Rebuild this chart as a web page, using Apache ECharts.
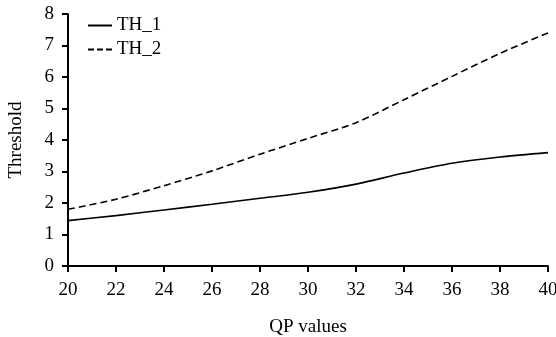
<!DOCTYPE html>
<html>
<head>
<meta charset="utf-8">
<script src="https://cdn.jsdelivr.net/npm/echarts@6/dist/echarts.min.js"></script>
<style>
  html, body { margin: 0; padding: 0; background: #fff; }
  #chart { width: 556px; height: 337px; }
</style>
</head>
<body>
<div id="chart"></div>
<script>
// QP values on the x axis
var qpValues = [20, 22, 24, 26, 28, 30, 32, 34, 36, 38, 40];
// threshold curves
var th1 = [1.44, 1.6, 1.78, 1.96, 2.15, 2.34, 2.6, 2.95, 3.26, 3.46, 3.6];
var th2 = [1.8, 2.12, 2.55, 3.02, 3.55, 4.05, 4.55, 5.28, 6.02, 6.75, 7.4];

var font = "'Liberation Serif', 'Times New Roman', serif";

function pairs(xs, ys) {
  return xs.map(function (x, i) { return [x, ys[i]]; });
}

var chart = echarts.init(document.getElementById('chart'));
chart.setOption({
  animation: false,
  backgroundColor: '#fff',
  grid: {left: 68, right: 8, top: 14, bottom: 71, containLabel: false, outerBoundsMode: 'none'},
  legend: {
    orient: 'vertical',
    left: 83,
    top: 11,
    itemWidth: 24,
    itemHeight: 2,
    itemGap: 5,
    textStyle: {fontFamily: font, fontSize: 19, color: '#000'},
    data: [
      {name: 'TH_1', icon: 'path://M0,0H24V2H0Z'},
      {name: 'TH_2', icon: 'path://M0,0H6V2H0Z M9,0H15V2H9Z M18,0H24V2H18Z'}
    ]
  },
  xAxis: {
    type: 'value',
    min: 20, max: 40, interval: 2,
    name: 'QP values',
    nameLocation: 'middle',
    nameGap: 52,
    nameTextStyle: {fontFamily: font, fontSize: 19, color: '#000'},
    axisLine: {lineStyle: {color: '#000', width: 2}},
    axisTick: {length: 6, lineStyle: {color: '#000', width: 2}},
    axisLabel: {fontFamily: font, fontSize: 19, color: '#000', margin: 15},
    splitLine: {show: false}
  },
  yAxis: {
    type: 'value',
    min: 0, max: 8, interval: 1,
    name: 'Threshold',
    nameLocation: 'middle',
    nameGap: 42,
    nameTextStyle: {fontFamily: font, fontSize: 19, color: '#000'},
    axisLine: {show: true, lineStyle: {color: '#000', width: 2}},
    axisTick: {show: true, length: 6, lineStyle: {color: '#000', width: 2}},
    axisLabel: {fontFamily: font, fontSize: 19, color: '#000', margin: 14},
    splitLine: {show: false}
  },
  series: [
    {
      name: 'TH_1',
      type: 'line',
      data: pairs(qpValues, th1),
      smooth: 0.3,
      symbol: 'none',
      lineStyle: {color: '#000', width: 1.6, type: 'solid'},
      itemStyle: {color: '#000'}
    },
    {
      name: 'TH_2',
      type: 'line',
      data: pairs(qpValues, th2),
      smooth: 0.3,
      symbol: 'none',
      lineStyle: {color: '#000', width: 1.6, type: [7, 4]},
      itemStyle: {color: '#000'}
    }
  ]
});
</script>
</body>
</html>
